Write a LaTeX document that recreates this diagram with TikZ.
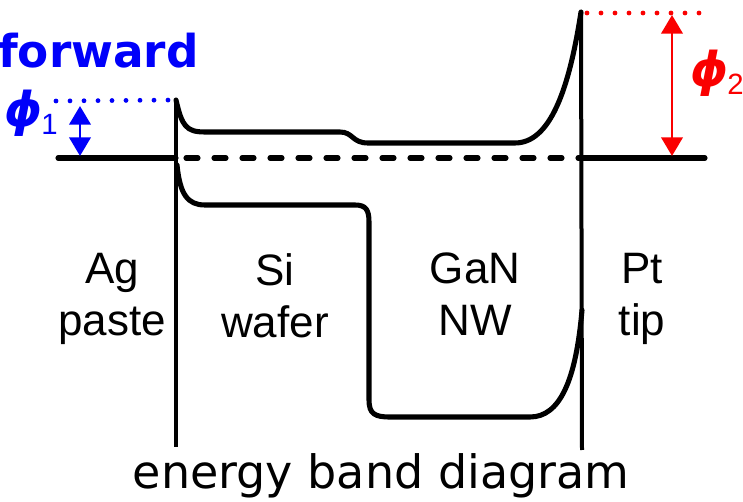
\documentclass[tikz,border=0pt]{standalone}
\usepackage{fontspec}
\setmainfont{Liberation Sans}
\newfontfamily\dejavu{DejaVu Sans}
\usetikzlibrary{arrows.meta}
\definecolor{fwdblue}{RGB}{0,0,250}
\definecolor{phired}{RGB}{250,0,0}
\newcommand{\barrierphi}[1]{{\dejavu\bfseries\itshape\fontsize{36}{36}\selectfont ϕ}\kern-1pt\raisebox{-0.22em}{\fontsize{22}{22}\selectfont #1}}

\begin{document}
\begin{tikzpicture}[x=0.75pt,y=-0.75pt,
    band/.style={line width=3.8pt,line cap=round,line join=round},
    wall/.style={line width=3pt},
    dotline/.style={line width=3.6pt,line cap=round,dash pattern=on 0pt off 10.5pt},
    barrier/.style={line width=2.2pt,{Triangle[width=16pt,length=14pt]}-{Triangle[width=16pt,length=14pt]}},
    philabel/.style={inner sep=0pt,font=\fontsize{27}{27}\selectfont},
    region/.style={align=center,anchor=north,inner sep=0pt,font=\fontsize{33}{39}\selectfont}]
  \useasboundingbox (0,0) rectangle (743,502);

  % interfaces
  \coordinate (agTop) at (176,100);
  \coordinate (agBot) at (176,447);
  \coordinate (ptTop) at (581,12);
  \coordinate (ptBot) at (582,450);
  \draw[wall] (agTop) -- (agBot);
  \draw[wall] (ptTop) -- (ptBot);

  % Fermi level
  \coordinate (efL) at (58,158);
  \coordinate (efA) at (176,158);
  \coordinate (efP) at (582,158);
  \coordinate (efR) at (705,158);
  \draw[band] (efL) -- (efA);
  \draw[band,dash pattern=on 9pt off 12pt] (efA) ++(10,0) -- (efP);
  \draw[band] (efP) -- (efR);

  % conduction and valence bands
  \draw[band] (agTop) .. controls (182,126) and (186,132) .. (205,132) -- (340,132)
    .. controls (353,132) and (352,143) .. (368,143) -- (515,143)
    .. controls (550,143) and (569,90) .. (ptTop);
  \draw[band] (177,165) .. controls (180,195) and (188,205) .. (205,205) -- (355,205)
    .. controls (366,205) and (369,210) .. (369,222) -- (369,400)
    .. controls (369,414) and (375,417) .. (390,417) -- (530,417)
    .. controls (560,417) and (576,380) .. (582,310);

  % barrier heights
  \coordinate (phiOneTop) at (56,101);
  \coordinate (phiTwoEnd) at (700,13);
  \draw[dotline,fwdblue] (phiOneTop) -- (agTop);
  \draw[dotline,phired] (ptTop) ++(6,1) -- (phiTwoEnd);
  \coordinate (a1) at (80,106);
  \coordinate (b1) at (80,156);
  \coordinate (a2) at (672,15);
  \coordinate (b2) at (672,156);
  \draw[barrier,fwdblue] (a1) -- (b1);
  \draw[barrier,phired] (a2) -- (b2);
  \node[philabel,fwdblue] (phi1) at (31,113) {\barrierphi{1}};
  \node[philabel,phired] (phi2) at (717,73) {\barrierphi{2}};

  % labels
  \node[fwdblue,anchor=base west,inner sep=0pt,font=\dejavu\bfseries\fontsize{34}{34}\selectfont] (fwd) at (-2,68) {forward};
  \node[region] (ag) at (112,253) {Ag\\paste};
  \node[region] (si) at (275,253) {Si\\wafer};
  \node[region] (gan) at (475,253) {GaN\\NW};
  \node[region] (pt) at (642,253) {Pt\\tip};
  \node[anchor=base,inner sep=0pt,font=\dejavu\fontsize{34.5}{34.5}\selectfont] (title) at (381,488) {energy band diagram};
\end{tikzpicture}
\end{document}
